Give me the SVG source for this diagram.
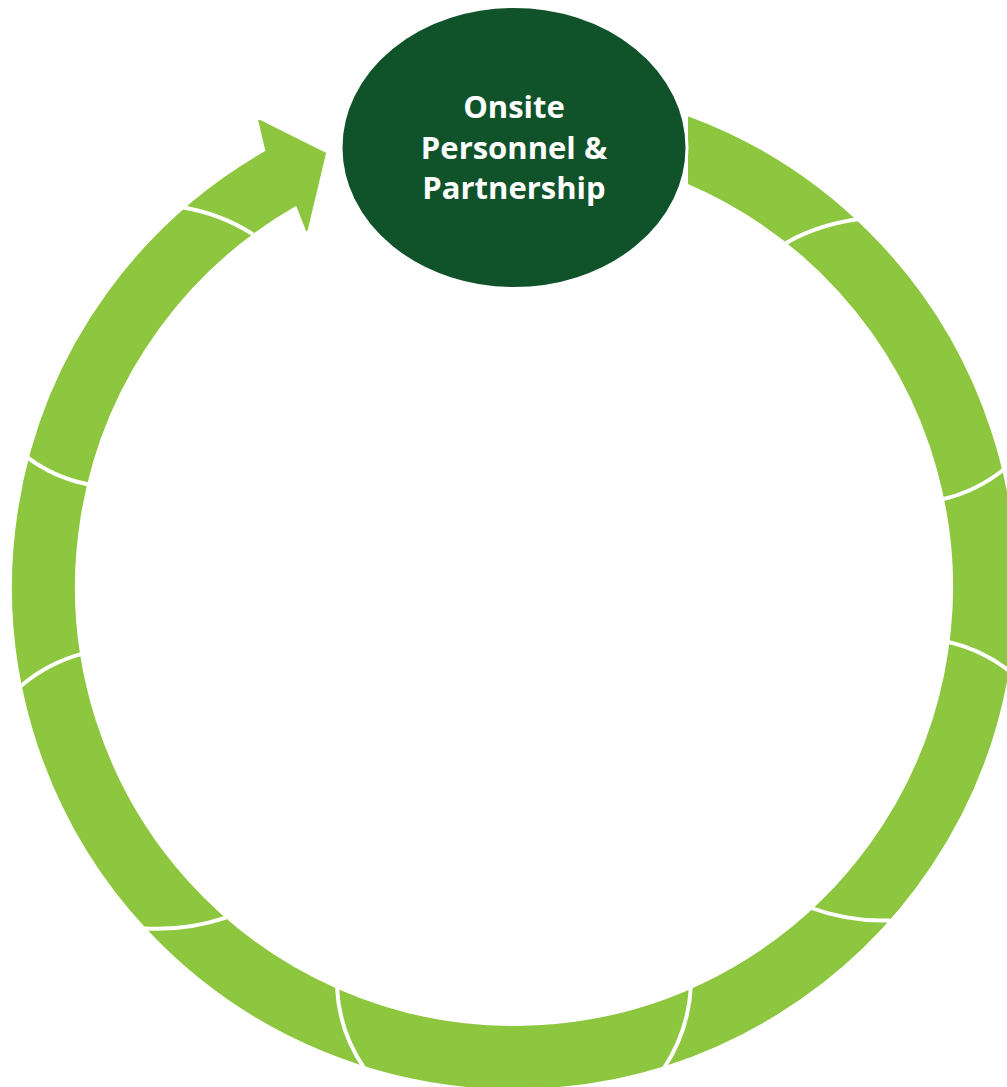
<svg xmlns="http://www.w3.org/2000/svg" width="1007" height="1087" viewBox="0 0 1007 1087">
  <style>
    .ring { fill: #8DC63F; stroke: #8DC63F; stroke-width: 2; stroke-linejoin: round; }
    .div { fill: none; stroke: #FFFFFF; stroke-width: 4; stroke-linecap: butt; }
    .node { fill: #10522A; stroke: #FFFFFF; stroke-width: 3; }
    .label { fill: #FFFFFF; font-family: "Open Sans", "Liberation Sans", sans-serif; font-weight: 700; font-size: 31px; text-anchor: middle; }
  </style>
  <rect width="1007" height="1087" fill="#FFFFFF"/>
  <g id="connectors">
    <path class="ring" d="M 689 117.6 A 501 501 0 1 1 266.6 151.4 L 259.3 120.7 L 325 153.3 L 306.7 230 L 296.7 204.4 A 440 440 0 1 0 689 183.3 Z"/>
    <g id="dividers">
      <path class="div" d="M 252.8 234.1 Q 219.3 213 180.2 207"/>
      <path class="div" d="M 786.1 242.9 Q 821.1 223.4 860.9 219.1"/>
      <path class="div" d="M 942.3 499.3 Q 977 491.2 1004.7 468.7"/>
      <path class="div" d="M 947.3 641.7 Q 981.9 649.3 1009.7 671.3"/>
      <path class="div" d="M 810 907.5 Q 848.7 921.9 890 920.5"/>
      <path class="div" d="M 690.9 985.1 Q 688.9 1030.2 664.1 1067.9"/>
      <path class="div" d="M 337 987.2 Q 339.1 1031.3 364 1067.8"/>
      <path class="div" d="M 226 917.6 Q 186 930.9 144 928.4"/>
      <path class="div" d="M 82.7 653.6 Q 47.8 662.9 20.3 686.4"/>
      <path class="div" d="M 87.7 484.2 Q 53.2 477.3 25.3 455.8"/>
    </g>
  </g>
  <g id="node-onsite">
    <ellipse class="node" cx="514" cy="147.5" rx="173" ry="141"/>
    <text class="label" x="514" y="118">Onsite</text>
    <text class="label" x="514" y="159">Personnel &amp;</text>
    <text class="label" x="514" y="199">Partnership</text>
  </g>
</svg>
